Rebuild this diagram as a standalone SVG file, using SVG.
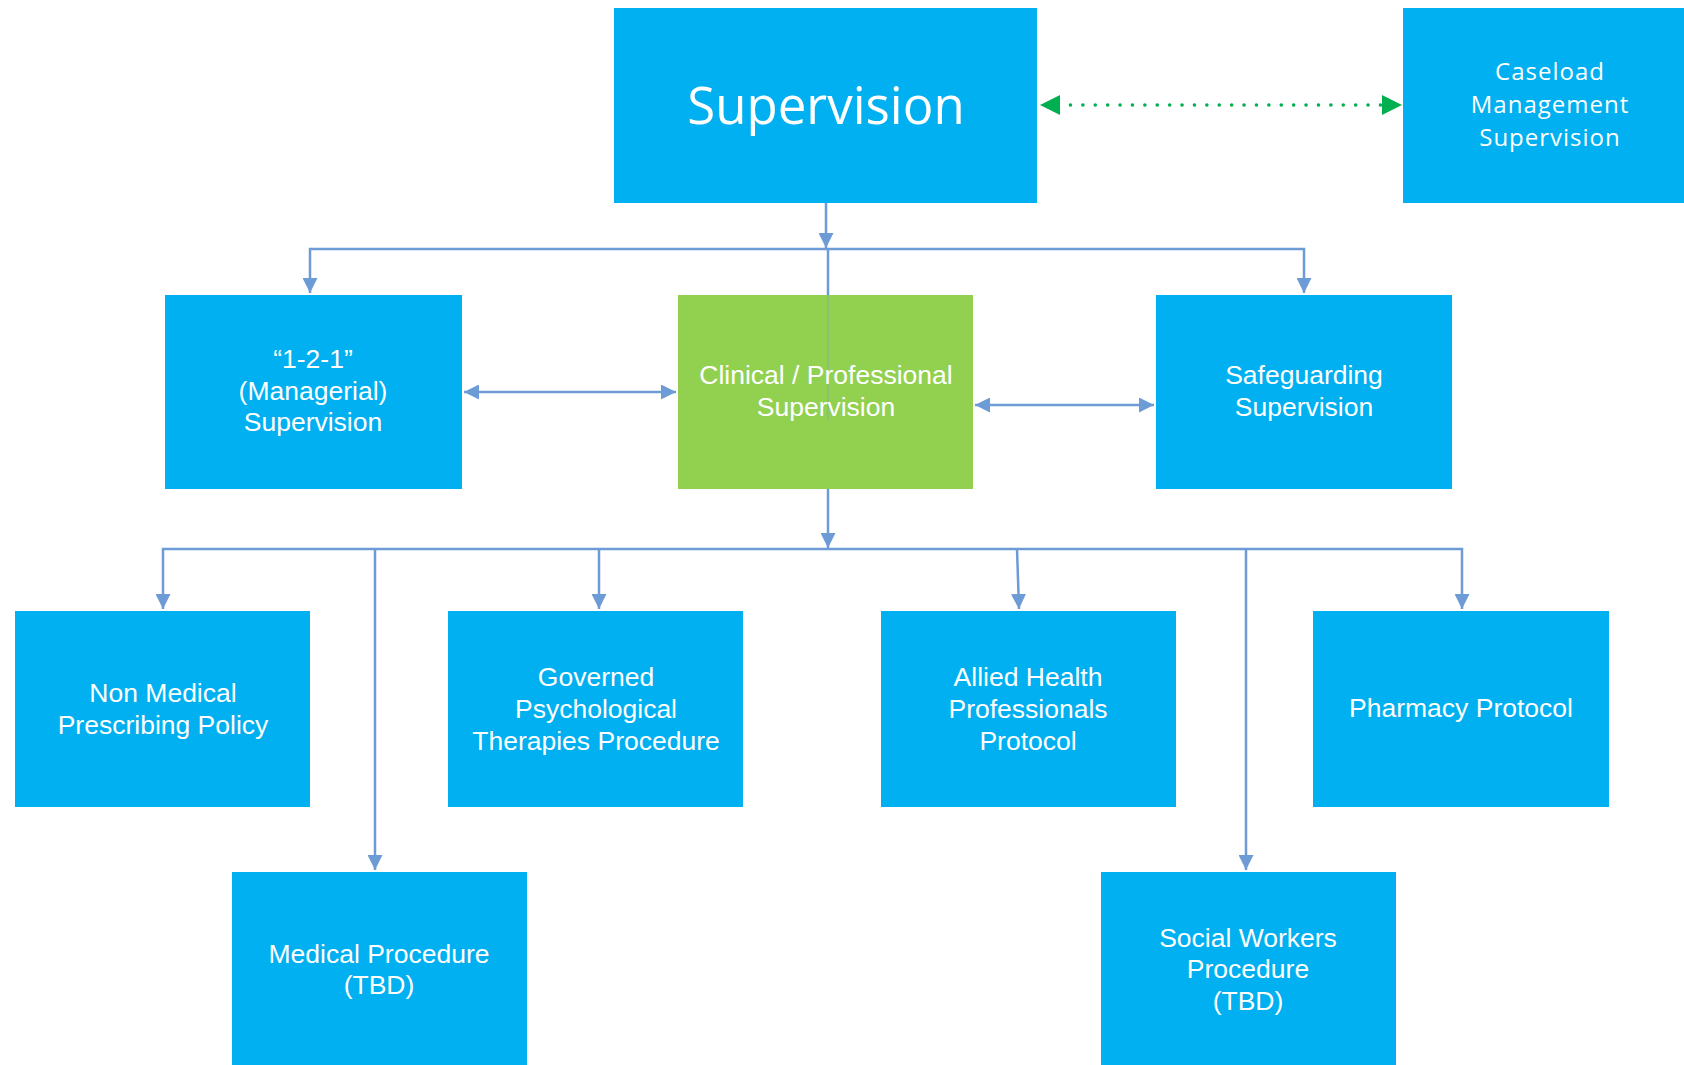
<svg xmlns="http://www.w3.org/2000/svg" width="1684" height="1065" viewBox="0 0 1684 1065">
<style>
.box{fill:#00B0F0}
.green{fill:#92D050}
.t{font-family:"Liberation Sans",Arial,sans-serif;font-size:26.5px;fill:#FFFFFF;text-anchor:middle}
.h{font-family:"Open Sans","Liberation Sans",sans-serif;fill:#FFFFFF;text-anchor:middle}
.c{stroke:#6C9BD6;stroke-width:2.5;fill:none}
.dot{stroke:#00B050;stroke-width:3.5;fill:none;stroke-dasharray:0.1 12.3;stroke-linecap:round}
</style>
<defs>
<marker id="ah" viewBox="0 0 10 10" refX="10" refY="5" markerWidth="6" markerHeight="6" orient="auto-start-reverse" markerUnits="strokeWidth">
<path d="M0,0 L10,5 L0,10 Z" fill="#6C9BD6"/>
</marker>
<marker id="gh" viewBox="0 0 10 10" refX="10" refY="5" markerWidth="20" markerHeight="20" orient="auto-start-reverse" markerUnits="userSpaceOnUse">
<path d="M0,0 L10,5 L0,10 Z" fill="#00B050"/>
</marker>
</defs>
<rect width="1684" height="1065" fill="#FFFFFF"/>

<g id="connectors">
<line class="dot" x1="1058" y1="105" x2="1384" y2="105"/>
<line x1="1058" y1="105" x2="1040" y2="105" stroke="#00B050" stroke-width="0.1" marker-end="url(#gh)"/>
<line x1="1384" y1="105" x2="1402" y2="105" stroke="#00B050" stroke-width="0.1" marker-end="url(#gh)"/>

<line class="c" x1="826" y1="203" x2="826" y2="248" marker-end="url(#ah)"/>
<polyline class="c" points="310,293 310,249 1304,249 1304,293" marker-start="url(#ah)" marker-end="url(#ah)"/>
<line class="c" x1="828" y1="249" x2="828" y2="295"/>

<line class="c" x1="464" y1="392" x2="676" y2="392" marker-start="url(#ah)" marker-end="url(#ah)"/>
<line class="c" x1="975" y1="405" x2="1154" y2="405" marker-start="url(#ah)" marker-end="url(#ah)"/>

<line class="c" x1="828" y1="489" x2="828" y2="548" marker-end="url(#ah)"/>
<polyline class="c" points="163,609 163,549 1462,549 1462,609" marker-start="url(#ah)" marker-end="url(#ah)"/>
<line class="c" x1="375" y1="549" x2="375" y2="870" marker-end="url(#ah)"/>
<line class="c" x1="599" y1="549" x2="599" y2="609" marker-end="url(#ah)"/>
<line class="c" x1="1017" y1="549" x2="1019" y2="609" marker-end="url(#ah)"/>
<line class="c" x1="1246" y1="549" x2="1246" y2="870" marker-end="url(#ah)"/>
</g>

<g id="supervision">
<rect class="box" x="614" y="8" width="423" height="195"/>
<text class="h" x="826" y="124" font-size="51">Supervision</text>
</g>

<g id="caseload">
<rect class="box" x="1403" y="8" width="281" height="195"/>
<text class="h" x="1550" y="80" font-size="24" letter-spacing="1">Caseload</text>
<text class="h" x="1550" y="113" font-size="24" letter-spacing="1">Management</text>
<text class="h" x="1550" y="146" font-size="24" letter-spacing="1">Supervision</text>
</g>

<g id="one-to-one">
<rect class="box" x="165" y="295" width="297" height="194"/>
<text class="t" x="313" y="368">“1-2-1”</text>
<text class="t" x="313" y="400">(Managerial)</text>
<text class="t" x="313" y="431">Supervision</text>
</g>

<g id="clinical">
<rect class="green" x="678" y="295" width="295" height="194"/>
<line x1="828" y1="295" x2="828" y2="420" stroke="#6C9BD6" stroke-width="2" opacity="0.25"/>
<text class="t" x="826" y="384">Clinical / Professional</text>
<text class="t" x="826" y="416">Supervision</text>
</g>

<g id="safeguarding">
<rect class="box" x="1156" y="295" width="296" height="194"/>
<text class="t" x="1304" y="384">Safeguarding</text>
<text class="t" x="1304" y="416">Supervision</text>
</g>

<g id="non-medical">
<rect class="box" x="15" y="611" width="295" height="196"/>
<text class="t" x="163" y="702">Non Medical</text>
<text class="t" x="163" y="734">Prescribing Policy</text>
</g>

<g id="governed">
<rect class="box" x="448" y="611" width="295" height="196"/>
<text class="t" x="596" y="686">Governed</text>
<text class="t" x="596" y="718">Psychological</text>
<text class="t" x="596" y="750">Therapies Procedure</text>
</g>

<g id="allied">
<rect class="box" x="881" y="611" width="295" height="196"/>
<text class="t" x="1028" y="686">Allied Health</text>
<text class="t" x="1028" y="718">Professionals</text>
<text class="t" x="1028" y="750">Protocol</text>
</g>

<g id="pharmacy">
<rect class="box" x="1313" y="611" width="296" height="196"/>
<text class="t" x="1461" y="717">Pharmacy Protocol</text>
</g>

<g id="medical">
<rect class="box" x="232" y="872" width="295" height="193"/>
<text class="t" x="379" y="963">Medical Procedure</text>
<text class="t" x="379" y="994">(TBD)</text>
</g>

<g id="social-workers">
<rect class="box" x="1101" y="872" width="295" height="193"/>
<text class="t" x="1248" y="947">Social Workers</text>
<text class="t" x="1248" y="978">Procedure</text>
<text class="t" x="1248" y="1010">(TBD)</text>
</g>
</svg>
